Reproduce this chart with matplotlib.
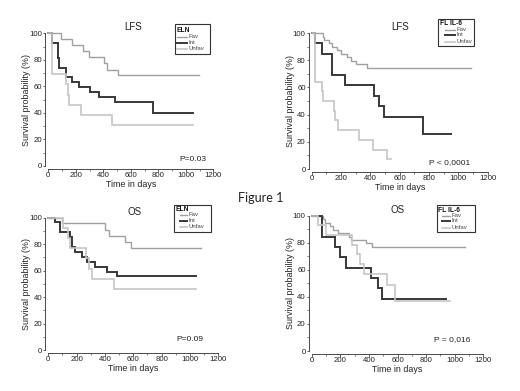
import matplotlib
matplotlib.use("Agg")
import matplotlib.pyplot as plt
from matplotlib.lines import Line2D
from matplotlib.patches import Rectangle
from matplotlib.ticker import MultipleLocator

plt.rcParams['font.family'] = ['Liberation Sans', 'DejaVu Sans']

# ---------------- data (Kaplan-Meier step points: time in days, survival %) -------------
group_labels = ["Fav", "Int", "Unfav"]

# Panel A: LFS by ELN
lfs_eln_fav_t = [0, 90, 175, 250, 295, 405, 425, 505, 1095]
lfs_eln_fav_s = [100, 95.5, 90.9, 86.4, 81.8, 77.3, 72.7, 68.2, 68.2]
lfs_eln_int_t = [0, 25, 70, 80, 130, 175, 225, 305, 370, 485, 765, 1055]
lfs_eln_int_s = [100, 92.6, 81.5, 74.1, 66.7, 63.0, 59.3, 55.6, 51.9, 48.1, 40.1, 40.1]
lfs_eln_unf_t = [0, 25, 128, 140, 150, 240, 462, 1055]
lfs_eln_unf_s = [100, 69.2, 61.5, 53.8, 46.2, 38.5, 30.8, 30.8]

# Panel B: LFS by FL IL-6
lfs_il6_fav_t = [0, 75, 85, 115, 140, 170, 200, 240, 270, 305, 380, 1085]
lfs_il6_fav_s = [100, 97.4, 94.9, 92.3, 89.7, 87.2, 84.6, 82.1, 79.5, 76.9, 74.4, 74.4]
lfs_il6_int_t = [0, 23, 73, 137, 226, 427, 462, 491, 757, 947]
lfs_il6_int_s = [100, 92.3, 84.6, 69.2, 61.5, 53.8, 46.2, 38.5, 25.6, 25.6]
lfs_il6_unf_t = [0, 20, 70, 80, 150, 160, 180, 325, 415, 515, 540]
lfs_il6_unf_s = [100, 64.3, 57.1, 50.0, 42.9, 35.7, 28.6, 21.4, 14.3, 7.1, 7.1]

# Panel C: OS by ELN
os_eln_fav_t = [0, 100, 400, 425, 540, 582, 1075]
os_eln_fav_s = [100, 95.5, 90.9, 86.4, 81.8, 77.3, 77.3]
os_eln_int_t = [0, 45, 80, 150, 170, 190, 240, 270, 330, 415, 487, 1045]
os_eln_int_s = [100, 96.3, 88.9, 85.2, 77.8, 74.1, 70.4, 66.7, 63.0, 59.3, 55.6, 55.6]
os_eln_unf_t = [0, 103, 140, 150, 268, 285, 305, 462, 1045]
os_eln_unf_s = [100, 92.3, 84.6, 76.9, 69.2, 61.5, 53.8, 46.2, 46.2]

# Panel D: OS by FL IL-6
os_il6_fav_t = [0, 80, 95, 125, 150, 185, 260, 275, 380, 425, 1075]
os_il6_fav_s = [100, 97.4, 94.9, 92.3, 89.7, 87.2, 84.6, 82.1, 79.5, 76.9, 76.9]
os_il6_int_t = [0, 75, 160, 201, 240, 418, 464, 491, 940]
os_il6_int_s = [100, 84.6, 76.9, 69.2, 61.5, 53.8, 46.2, 38.5, 38.5]
os_il6_unf_t = [0, 45, 100, 285, 315, 340, 365, 528, 585, 965]
os_il6_unf_s = [100, 92.9, 85.7, 78.6, 71.4, 64.3, 57.1, 48.6, 37.0, 37.0]

panel_titles = ["LFS", "LFS", "OS", "OS"]
legend_titles = ["ELN", "FL IL-6", "ELN", "FL IL-6"]
p_texts = ["P=0.03", "P < 0,0001", "P=0.09", "P = 0,016"]
x_ticks = [0, 200, 400, 600, 800, 1000, 1200]
y_ticks = [0, 20, 40, 60, 80, 100]
figure_label = "Figure 1"

# ---------------- styling ----------------
W, H = 520, 391
styles = [dict(color="#a0a0a0", lw=1.0),   # Fav
          dict(color="#383838", lw=1.4),   # Int
          dict(color="#c6c6c6", lw=1.2)]   # Unfav

fig = plt.figure(figsize=(W / 100, H / 100), dpi=100)
fig.patch.set_facecolor("white")


def fr(px_left, px_top, px_right, px_bottom):
    return [px_left / W, 1 - px_bottom / H, (px_right - px_left) / W, (px_bottom - px_top) / H]


axes_px = [
    (48.3, 33.3, 213.3, 166.0),
    (311.7, 33.0, 487.7, 169.0),
    (48.3, 217.5, 218.3, 350.3),
    (311.7, 215.7, 483.3, 351.0),
]
legend_px = [
    dict(box=(174.5, 24.5, 210, 54), title_y=30.5, rows=[36.5, 42.5, 49], lx=(176.5, 186.5), tx=188.5),
    dict(box=(437.5, 19.5, 474, 45.5), title_y=23.5, rows=[29.5, 35.0, 41.5], lx=(445, 455), tx=456.5),
    dict(box=(174, 205, 210.5, 231.5), title_y=209.5, rows=[215, 220.5, 226.5], lx=(180, 187), tx=188.5),
    dict(box=(436.5, 205, 475, 231.5), title_y=210, rows=[215.5, 221, 227.5], lx=(441.5, 450), tx=451.5),
]
title_pos = [(616, 104.7), (600, 104.6), (612, 103.8), (600, 103.9)]
p_pos = [(1150, 5.0), (1080, 4.6), (1094, 7.8), (1107, 8.1)]

data = [
    [(lfs_eln_fav_t, lfs_eln_fav_s), (lfs_eln_int_t, lfs_eln_int_s), (lfs_eln_unf_t, lfs_eln_unf_s)],
    [(lfs_il6_fav_t, lfs_il6_fav_s), (lfs_il6_int_t, lfs_il6_int_s), (lfs_il6_unf_t, lfs_il6_unf_s)],
    [(os_eln_fav_t, os_eln_fav_s), (os_eln_int_t, os_eln_int_s), (os_eln_unf_t, os_eln_unf_s)],
    [(os_il6_fav_t, os_il6_fav_s), (os_il6_int_t, os_il6_int_s), (os_il6_unf_t, os_il6_unf_s)],
]

axis_col = "#4a4a4a"
for i in range(4):
    ax = fig.add_axes(fr(*axes_px[i]))
    ax.set_xlim(0, 1200)
    ax.set_ylim(0, 100)
    for (t, s), st in zip(data[i], styles):
        ax.step(t, s, where="post", clip_on=False, solid_joinstyle="miter", **st)
    for sp in ["top", "right"]:
        ax.spines[sp].set_visible(False)
    ax.spines["left"].set_position(("outward", 2.2))
    ax.spines["bottom"].set_position(("outward", 2.2))
    for sp in ["left", "bottom"]:
        ax.spines[sp].set_color(axis_col)
        ax.spines[sp].set_linewidth(0.7)
    ax.set_xticks(x_ticks)
    ax.set_yticks(y_ticks)
    ax.xaxis.set_minor_locator(MultipleLocator(100))
    ax.yaxis.set_minor_locator(MultipleLocator(10))
    ax.tick_params(which="major", length=1.8, width=0.6, color=axis_col, labelsize=5.6, pad=0.3,
                   labelcolor="#222222")
    ax.tick_params(which="minor", length=1.1, width=0.5, color=axis_col)
    ax.set_xlabel("Time in days", fontsize=6.4, labelpad=0.5, color="#222222")
    ax.set_ylabel("Survival probability (%)", fontsize=6.4, labelpad=-1.2, color="#222222")
    ax.patch.set_alpha(0)
    tx, ty = title_pos[i]
    ax.text(tx, ty, panel_titles[i], ha="center", va="center", fontsize=7, clip_on=False, color="#222222")
    px, py = p_pos[i]
    ax.text(px, py, p_texts[i], ha="right", va="center", fontsize=6, clip_on=False, color="#222222")

    # legend box drawn in figure coordinates
    L = legend_px[i]
    x0, y0, x1, y1 = L["box"]
    fig.add_artist(Rectangle((x0 / W, 1 - y1 / H), (x1 - x0) / W, (y1 - y0) / H,
                             transform=fig.transFigure, fill=False, ec="#333333", lw=0.8))
    fig.text((x0 + 2) / W, 1 - L["title_y"] / H, legend_titles[i], fontsize=4.8, fontweight="bold",
             ha="left", va="center", color="#111111")
    for ry, lab, st in zip(L["rows"], group_labels, styles):
        fig.add_artist(Line2D([L["lx"][0] / W, L["lx"][1] / W], [1 - ry / H, 1 - ry / H],
                              transform=fig.transFigure, color=st["color"], lw=st["lw"]))
        fig.text(L["tx"] / W, 1 - ry / H, lab, fontsize=4.3, ha="left", va="center", color="#444444")

fig.text(261 / W, 1 - 197.5 / H, figure_label, fontsize=9, ha="center", va="center",
         family=["Lato", "DejaVu Sans"], color="#222222")

fig.savefig("out.png", dpi=100, facecolor="white")
